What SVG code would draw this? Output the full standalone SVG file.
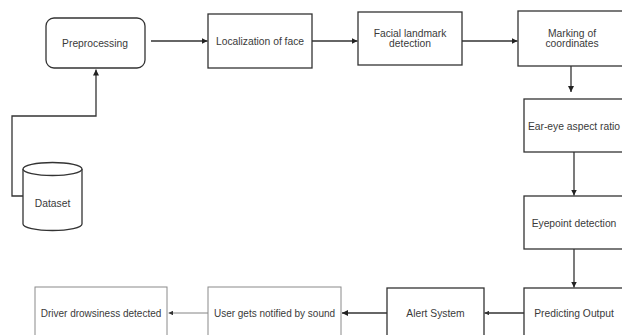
<svg xmlns="http://www.w3.org/2000/svg" width="622" height="335" viewBox="0 0 622 335">
<defs>
<style>
.box{fill:#fff;stroke:#333;stroke-width:1.3}
.light{fill:#fff;stroke:#8a8a8a;stroke-width:1}
.t{font-family:"Liberation Sans",Arial,sans-serif;font-size:10.3px;fill:#3a3a3a;text-anchor:middle;dominant-baseline:central}
.c{fill:none;stroke:#333;stroke-width:1.3}
.cl{fill:none;stroke:#777;stroke-width:0.9}
</style>
<marker id="ah" viewBox="0 0 8 8" refX="8" refY="4" markerWidth="6" markerHeight="6" markerUnits="userSpaceOnUse" orient="auto">
<path d="M0,0 L8,4 L0,8 z" fill="#222"/>
</marker>
<marker id="ahs" viewBox="0 0 8 8" refX="8" refY="4" markerWidth="4.5" markerHeight="4.5" markerUnits="userSpaceOnUse" orient="auto">
<path d="M0,0 L8,4 L0,8 z" fill="#333"/>
</marker>
</defs>
<rect width="622" height="335" fill="#fff"/>
<g id="connectors">
<path class="c" d="M23,196 H12 V116 H96 V69.5" marker-end="url(#ah)"/>
<path class="c" d="M151,41 H207.5" marker-end="url(#ah)"/>
<path class="c" d="M312,41 H357.5" marker-end="url(#ah)"/>
<path class="c" d="M462,41 H517.5" marker-end="url(#ah)"/>
<path class="c" d="M571,66 V92" marker-end="url(#ah)"/>
<path class="c" d="M574,152 V195.5" marker-end="url(#ah)"/>
<path class="c" d="M574,249 V287.5" marker-end="url(#ah)"/>
<path class="c" d="M524,313 H484.5" marker-end="url(#ahs)"/>
<path class="c" d="M387,313 H342" marker-end="url(#ah)"/>
<path class="cl" d="M208,313 H168.5" marker-end="url(#ahs)"/>
</g>
<g id="preprocessing">
<rect class="box" x="46" y="18" width="99" height="50" rx="8"/>
<text class="t" x="95" y="43">Preprocessing</text>
</g>
<g id="localization">
<rect class="box" x="208" y="14" width="104" height="54"/>
<text class="t" x="260" y="41">Localization of face</text>
</g>
<g id="landmark">
<rect class="box" x="358" y="12" width="104" height="53"/>
<text class="t" x="410" y="33">Facial landmark</text>
<text class="t" x="410" y="43.5">detection</text>
</g>
<g id="marking">
<rect class="box" x="518" y="11" width="108" height="55"/>
<text class="t" x="572" y="33">Marking of</text>
<text class="t" x="572" y="43.5">coordinates</text>
</g>
<g id="ear">
<rect class="box" x="524" y="99" width="100" height="53"/>
<text class="t" x="574" y="126">Ear-eye aspect ratio</text>
</g>
<g id="eyepoint">
<rect class="box" x="524" y="196" width="100" height="53"/>
<text class="t" x="574" y="223">Eyepoint detection</text>
</g>
<g id="predicting">
<rect class="box" x="524" y="288" width="100" height="60"/>
<text class="t" x="574" y="313.5">Predicting Output</text>
</g>
<g id="alert">
<rect class="box" x="387" y="288" width="97" height="60"/>
<text class="t" x="435.5" y="313.5">Alert System</text>
</g>
<g id="user">
<rect class="light" x="208" y="287" width="133" height="60"/>
<text class="t" x="274.5" y="313.5" style="font-size:10px">User gets notified by sound</text>
</g>
<g id="driver">
<rect class="light" x="35" y="287" width="132" height="60"/>
<text class="t" x="101" y="313.5" style="font-size:10px">Driver drowsiness detected</text>
</g>
<g id="dataset">
<path class="box" d="M23,169 V224 A29.5,6.5 0 0 0 82,224 V169"/>
<ellipse class="box" cx="52.5" cy="169" rx="29.5" ry="6.5"/>
<text class="t" x="52.5" y="203">Dataset</text>
</g>
</svg>
